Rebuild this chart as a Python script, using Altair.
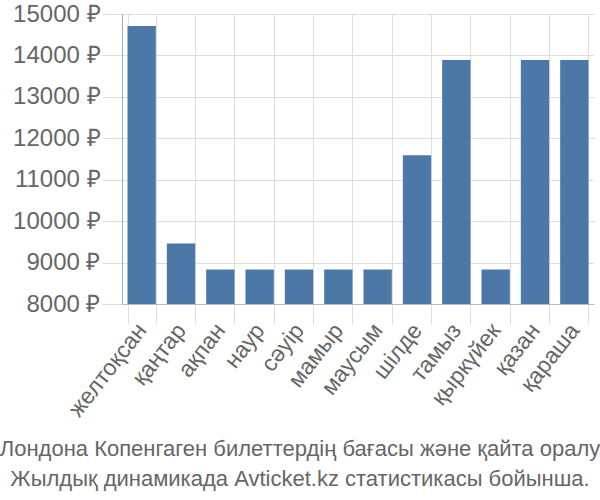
import altair as alt
import pandas as pd

months = ["желтоқсан", "қаңтар", "ақпан", "наур", "сәуір", "мамыр", "маусым",
          "шілде", "тамыз", "қыркүйек", "қазан", "қараша"]
prices = [14710, 9460, 8830, 8830, 8830, 8830, 8830, 11590, 13890, 8830, 13890, 13890]
y_ticks = [8000, 9000, 10000, 11000, 12000, 13000, 14000, 15000]
title_lines = ["Лондона Копенгаген билеттердің бағасы және қайта оралу",
               "Жылдық динамикада Avticket.kz статистикасы бойынша."]

df = pd.DataFrame({"month": months, "price": prices})

FONT = "Liberation Sans"
GREY = "#666666"

chart = alt.Chart(df).mark_bar(color="#4c78a8").encode(
    x=alt.X("month:N", sort=months, title=None,
            scale=alt.Scale(paddingInner=0.28, paddingOuter=0.14),
            axis=alt.Axis(labelAngle=-52, labelFontSize=23, labelColor=GREY,
                          labelFont=FONT, tickSize=20, tickBand="extent",
                          grid=True, gridColor="#dddddd", tickColor="#dddddd",
                          domainColor="#bbbbbb", labelPadding=2)),
    y=alt.Y("price:Q", title=None,
            scale=alt.Scale(domain=[8000, 15000], zero=False, nice=False),
            axis=alt.Axis(values=y_ticks, labelExpr="datum.value + ' ₽'",
                          labelFontSize=24, labelColor=GREY, labelFont=FONT,
                          tickSize=20, tickColor="#dddddd", gridColor="#dddddd",
                          domainColor="#aaaaaa", labelPadding=2)),
    y2=alt.datum(8000),
).properties(
    width=472, height=290,
    padding={"left": 122, "top": 14, "right": 6, "bottom": 196},
    autosize=alt.AutoSizeParams(type="none"),
    title=alt.TitleParams(text=title_lines, orient="bottom", anchor="middle",
                          fontSize=22, font=FONT, color=GREY, fontWeight="normal",
                          dx=-58, offset=18, lineHeight=30),
).configure_view(stroke=None)

chart.save("out.html", embed_options={"renderer": "svg", "actions": False})
